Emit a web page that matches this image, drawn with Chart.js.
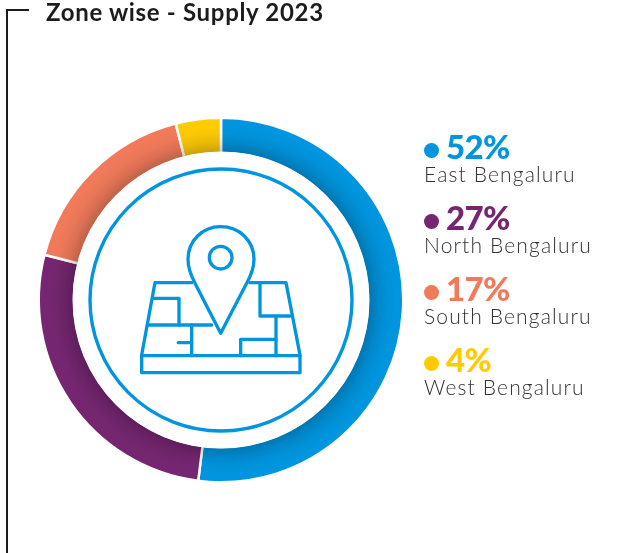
<!DOCTYPE html>
<html>
<head>
<meta charset="utf-8">
<title>Zone wise - Supply 2023</title>
<script src="https://cdn.jsdelivr.net/npm/chart.js@4"></script>
<style>
    html, body { margin: 0; padding: 0; background: #fff; overflow: hidden; }
    #wrap { position: relative; width: 630px; height: 553px; font-family: Lato, sans-serif; }
    #title { position: absolute; left: 46px; top: -2px; font-size: 24px; line-height: 28px; font-weight: 700; color: #1c1c1c; letter-spacing: 0.68px; white-space: nowrap; }
    #legend { position: absolute; left: 424px; top: 127px; }
    .item { position: relative; height: 71px; }
    .dot { position: absolute; left: 0; top: 15.5px; width: 15px; height: 15px; border-radius: 50%; }
    .pct { position: absolute; left: 22px; top: 0; font-size: 33px; line-height: 38px; font-weight: 900; letter-spacing: -0.6px; white-space: nowrap; }
    .name { position: absolute; left: 0; top: 34px; font-size: 21px; line-height: 26px; font-weight: 300; color: #333; letter-spacing: 1.15px; white-space: nowrap; }
</style>
</head>
<body>
<div id="wrap">
    <canvas id="zoneChart" width="630" height="553"></canvas>
    <div id="title"></div>
    <div id="legend"></div>
</div>
<script>
const chartTitle = "Zone wise - Supply 2023";
const zones = ["East Bengaluru", "North Bengaluru", "South Bengaluru", "West Bengaluru"];
const supply = [52, 27, 17, 4];
const zoneColors = ["#0095de", "#762671", "#f07a5a", "#ffcb05"];

// map icon traced at 3x, drawn through a translate + scale
const mapLines = [
    [[215, 218], [105, 218], [65, 435], [65, 488], [540, 488], [540, 435], [498, 218], [390, 218]],
    [[65, 437], [540, 437]],
    [[100, 265], [177, 265], [177, 345]],
    [[85, 345], [275, 345]],
    [[215, 345], [215, 437]],
    [[175, 398], [215, 398]],
    [[362, 437], [362, 388], [468, 388]],
    [[468, 320], [468, 437]],
    [[420, 222], [420, 318], [510, 318]]
];

// white disc with a soft shadow over the ring, then the blue circle and icon
const centerArt = {
    id: "centerArt",
    afterDatasetsDraw(chart) {
        const ctx = chart.ctx;
        const arc = chart.getDatasetMeta(0).data[0];
        const x = arc.x, y = arc.y;
        const disc = arc.innerRadius + 1.5;

        ctx.save();
        let shade = ctx.createRadialGradient(x, y, disc, x, y, disc + 26);
        shade.addColorStop(0, "rgba(0, 0, 0, 0.2)");
        shade.addColorStop(0.35, "rgba(0, 0, 0, 0.09)");
        shade.addColorStop(0.7, "rgba(0, 0, 0, 0.025)");
        shade.addColorStop(1, "rgba(0, 0, 0, 0)");
        ctx.beginPath();
        ctx.arc(x, y, arc.outerRadius - 1, 0, Math.PI * 2);
        ctx.clip();
        ctx.fillStyle = shade;
        ctx.beginPath();
        ctx.arc(x, y, disc + 26, 0, Math.PI * 2);
        ctx.arc(x, y, disc - 1, 0, Math.PI * 2, true);
        ctx.fill();

        ctx.fillStyle = "#fff";
        ctx.beginPath();
        ctx.arc(x, y, disc, 0, Math.PI * 2);
        ctx.fill();

        ctx.strokeStyle = zoneColors[0];
        ctx.lineWidth = 3.4;
        ctx.beginPath();
        ctx.arc(x, y, 131, 0, Math.PI * 2);
        ctx.stroke();

        ctx.translate(120, 210);
        ctx.scale(1 / 3, 1 / 3);
        ctx.lineWidth = 10;
        ctx.lineJoin = "round";
        ctx.lineCap = "round";
        for (let line of mapLines) {
            ctx.beginPath();
            line.forEach((p, i) => i ? ctx.lineTo(p[0], p[1]) : ctx.moveTo(p[0], p[1]));
            ctx.stroke();
        }

        // pin
        ctx.fillStyle = "#fff";
        ctx.beginPath();
        ctx.moveTo(302, 370);
        ctx.lineTo(225, 220);
        ctx.bezierCurveTo(212, 195, 204, 175, 204, 148);
        ctx.bezierCurveTo(204, 92, 248, 50, 302, 50);
        ctx.bezierCurveTo(358, 50, 402, 92, 402, 148);
        ctx.bezierCurveTo(402, 175, 394, 195, 380, 220);
        ctx.closePath();
        ctx.fill();
        ctx.stroke();
        ctx.beginPath();
        ctx.arc(302, 143, 34, 0, Math.PI * 2);
        ctx.stroke();
        ctx.restore();
    }
};

// frame line next to the title
const frameLine = {
    id: "frameLine",
    beforeDraw(chart) {
        const ctx = chart.ctx;
        ctx.save();
        ctx.strokeStyle = "#1c1c1c";
        ctx.lineWidth = 2;
        ctx.beginPath();
        ctx.moveTo(29, 10);
        ctx.lineTo(7, 10);
        ctx.lineTo(7, 553);
        ctx.stroke();
        ctx.restore();
    }
};

new Chart(document.getElementById("zoneChart"), {
    type: "doughnut",
    data: {
        labels: zones,
        datasets: [{
            data: supply,
            backgroundColor: zoneColors,
            borderColor: "#fff",
            borderWidth: 2.5,
            hoverOffset: 0
        }]
    },
    options: {
        responsive: false,
        animation: false,
        cutout: 147,
        layout: { padding: { left: 37.5, right: 225.5, top: 116.5, bottom: 69.5 } },
        plugins: {
            legend: { display: false },
            tooltip: { enabled: false }
        }
    },
    plugins: [frameLine, centerArt]
});

document.getElementById("title").textContent = chartTitle;
let legendEl = document.getElementById("legend");
zones.forEach((zone, i) => {
    let item = document.createElement("div");
    item.className = "item";
    item.innerHTML = `<span class="dot" style="background:${zoneColors[i]}"></span>` +
        `<span class="pct" style="color:${zoneColors[i]}">${supply[i]}%</span>` +
        `<span class="name">${zone}</span>`;
    legendEl.appendChild(item);
});
</script>
</body>
</html>
